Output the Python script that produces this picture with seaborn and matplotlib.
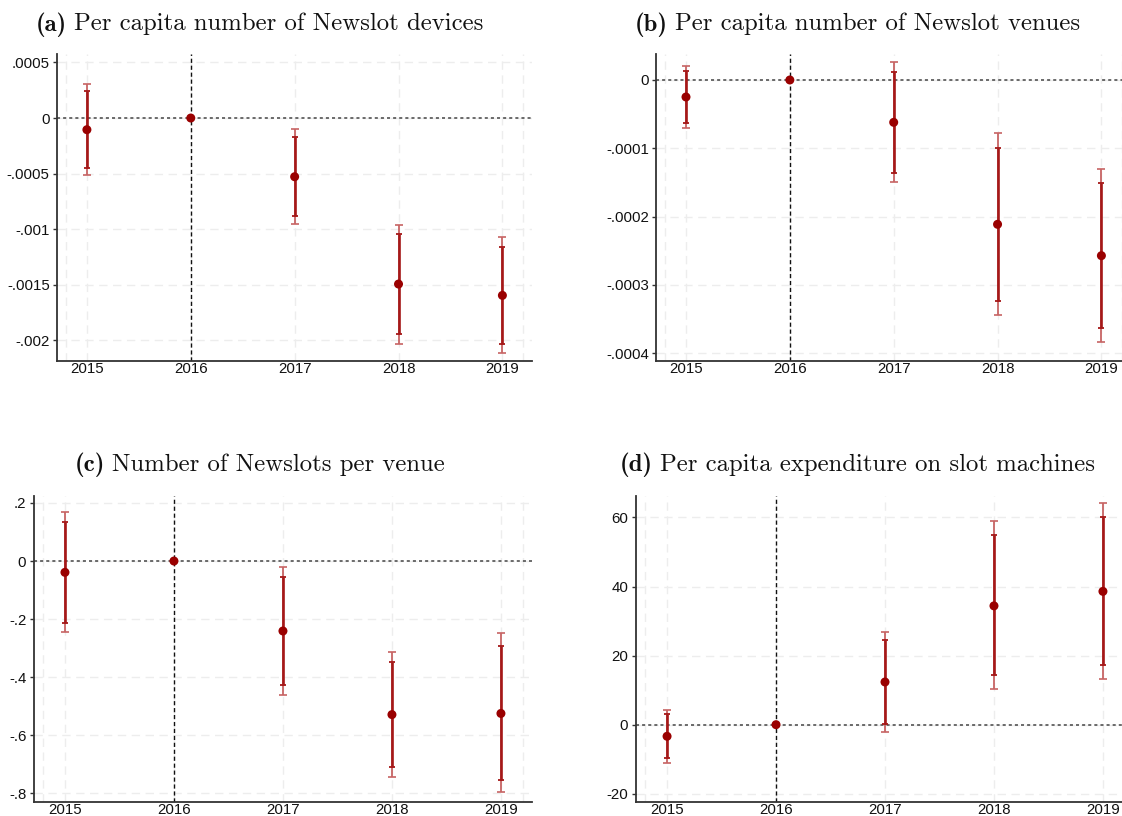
import numpy as np
import pandas as pd
import matplotlib
matplotlib.use("Agg")
import matplotlib.pyplot as plt
from matplotlib.ticker import FuncFormatter
import seaborn as sns

years = [2015, 2016, 2017, 2018, 2019]

# (a) per capita number of Newslot devices
coef_a = [-0.000105, 0.0, -0.000528, -0.001493, -0.001595]
inner_lo_a = [-0.00045, np.nan, -0.00088, -0.00194, -0.002032]
inner_hi_a = [0.000245, np.nan, -0.000168, -0.001043, -0.001157]
outer_lo_a = [-0.000515, np.nan, -0.00095, -0.00203, -0.002117]
outer_hi_a = [0.00031, np.nan, -0.000102, -0.00096, -0.00107]
ticks_a = [0.0005, 0.0, -0.0005, -0.001, -0.0015, -0.002]

# (b) per capita number of Newslot venues
coef_b = [-0.0000249, 0.0, -0.000062, -0.0002113, -0.0002572]
inner_lo_b = [-0.0000634, np.nan, -0.0001357, -0.000323, -0.0003636]
inner_hi_b = [0.0000137, np.nan, 0.0000122, -0.0000991, -0.0001508]
outer_lo_b = [-0.0000707, np.nan, -0.0001493, -0.0003445, -0.000384]
outer_hi_b = [0.000021, np.nan, 0.0000259, -0.0000771, -0.0001303]
ticks_b = [0.0, -0.0001, -0.0002, -0.0003, -0.0004]

# (c) number of Newslots per venue
coef_c = [-0.039, 0.0, -0.241, -0.529, -0.525]
inner_lo_c = [-0.2125, np.nan, -0.426, -0.709, -0.753]
inner_hi_c = [0.1355, np.nan, -0.054, -0.348, -0.294]
outer_lo_c = [-0.2445, np.nan, -0.4614, -0.744, -0.796]
outer_hi_c = [0.17, np.nan, -0.0196, -0.313, -0.249]
ticks_c = [0.2, 0.0, -0.2, -0.4, -0.6, -0.8]

# (d) per capita expenditure on slot machines
coef_d = [-3.36, 0.0, 12.36, 34.4, 38.6]
inner_lo_d = [-9.7, np.nan, 0.3, 14.3, 17.3]
inner_hi_d = [3.1, np.nan, 24.5, 54.8, 60.0]
outer_lo_d = [-11.0, np.nan, -2.1, 10.3, 13.1]
outer_hi_d = [4.35, np.nan, 26.9, 58.9, 64.2]
ticks_d = [60, 40, 20, 0, -20]

labels = ["(a)", "(b)", "(c)", "(d)"]
titles = [
    "Per capita number of Newslot devices",
    "Per capita number of Newslot venues",
    "Number of Newslots per venue",
    "Per capita expenditure on slot machines",
]

sns.set_style("white")
plt.rcParams["font.family"] = ["Liberation Sans", "DejaVu Sans"]


def stata_fmt(v, pos):
    s = ("%.6f" % v).rstrip("0").rstrip(".")
    if s in ("-0", ""):
        s = "0"
    if s.startswith("0."):
        s = s[1:]
    elif s.startswith("-0."):
        s = "-" + s[2:]
    return s


def panel(ax, coef, ilo, ihi, olo, ohi, ticks, ylim):
    df = pd.DataFrame({"year": years, "coef": coef,
                       "ilo": ilo, "ihi": ihi, "olo": olo, "ohi": ohi})
    ci = df.dropna()
    ax.set_xlim(2014.715, 2019.285)
    ax.set_ylim(*ylim)
    for x in [2014.8, 2015, 2016, 2017, 2018, 2019, 2019.2]:
        ax.axvline(x, color="#ededed", ls=(0, (6, 4)), lw=1, zorder=0)
    for y in ticks:
        ax.axhline(y, color="#ededed", ls=(0, (6, 4)), lw=1, zorder=0)
    ax.axhline(0, color="#444444", ls=(0, (2, 2)), lw=1.1, zorder=1)
    ax.axvline(2016, color="#111111", ls=(0, (3, 2)), lw=1, zorder=1)
    ax.errorbar(ci["year"], ci["coef"],
                yerr=[ci["coef"] - ci["olo"], ci["ohi"] - ci["coef"]],
                fmt="none", ecolor="#c76464", elinewidth=1.3,
                capsize=3, capthick=1.2, zorder=2)
    ax.errorbar(ci["year"], ci["coef"],
                yerr=[ci["coef"] - ci["ilo"], ci["ihi"] - ci["coef"]],
                fmt="none", ecolor="#a51818", elinewidth=1.9,
                capsize=2.5, capthick=1.3, zorder=3)
    sns.scatterplot(data=df, x="year", y="coef", ax=ax, color="#9a0000",
                    s=42, edgecolor="none", zorder=4, legend=False)
    ax.set_xticks(years)
    ax.set_xticklabels([str(y) for y in years])
    ax.set_yticks(ticks)
    ax.yaxis.set_major_formatter(FuncFormatter(stata_fmt))
    ax.set_xlabel("")
    ax.set_ylabel("")
    sns.despine(ax=ax)
    for side in ["left", "bottom"]:
        ax.spines[side].set_color("#333333")
        ax.spines[side].set_linewidth(1.3)
    ax.tick_params(axis="y", length=3, width=1, color="#333333", pad=2.5,
                   labelsize=10.8, labelcolor="#111111", left=True)
    ax.tick_params(axis="x", length=0, pad=1, labelsize=10.8,
                   labelcolor="#111111")


W, H = 1122, 816
fig = plt.figure(figsize=(W / 100, H / 100), dpi=100)


def box(left, right, top, bottom):
    return [left / W, 1 - bottom / H, (right - left) / W, (bottom - top) / H]


ax_a = fig.add_axes(box(57.3, 532, 54.3, 361))
ax_b = fig.add_axes(box(656.4, 1131, 54.3, 361))
ax_c = fig.add_axes(box(33.9, 532, 495.7, 801.7))
ax_d = fig.add_axes(box(636, 1134, 495.7, 801.7))

panel(ax_a, coef_a, inner_lo_a, inner_hi_a, outer_lo_a, outer_hi_a, ticks_a, (-0.002185, 0.000573))
panel(ax_b, coef_b, inner_lo_b, inner_hi_b, outer_lo_b, outer_hi_b, ticks_b, (-0.0004114, 0.0000376))
panel(ax_c, coef_c, inner_lo_c, inner_hi_c, outer_lo_c, outer_hi_c, ticks_c, (-0.829, 0.225))
panel(ax_d, coef_d, inner_lo_d, inner_hi_d, outer_lo_d, outer_hi_d, ticks_d, (-22.3, 66.3))

# titles: bold panel letter + regular text, centred as a group
renderer = fig.canvas.get_renderer()
title_pos = [(260, 21.5), (857.5, 21.5), (260, 462), (857.5, 462)]
gap = 7
for (tx, ty), lab, t in zip(title_pos, labels, titles):
    t1 = fig.text(0, 1 - ty / H, lab, ha="left", va="center_baseline",
                  family="cmb10", fontsize=17.8, color="#111111")
    t2 = fig.text(0, 1 - ty / H, t, ha="left", va="center_baseline",
                  family="cmr10", fontsize=17.8, color="#111111")
    w1 = t1.get_window_extent(renderer).width
    w2 = t2.get_window_extent(renderer).width
    x0 = tx - (w1 + gap + w2) / 2
    t1.set_x(x0 / W)
    t2.set_x((x0 + w1 + gap) / W)

fig.savefig("out.png", dpi=100)
